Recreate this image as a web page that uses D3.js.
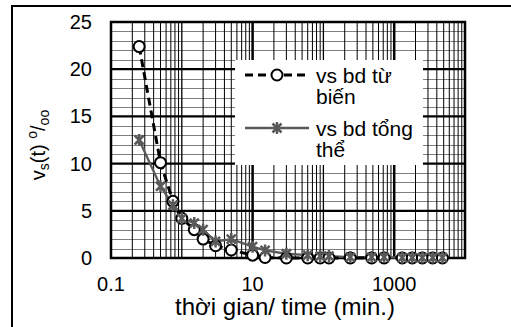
<!DOCTYPE html>
<html lang="vi">
<head>
  <meta charset="UTF-8">
  <title>vs(t) theo thời gian</title>
  <script src="https://d3js.org/d3.v7.min.js"></script>
  <style>
    body { margin: 0; background: #fff; }
    svg { display: block; font-family: 'Liberation Sans', Arial, sans-serif; }
    .tick-label { font-size: 20px; fill: #000; }
    .axis-title { font-size: 24px; fill: #000; }
    .legend-text { font-size: 21px; fill: #000; }
  </style>
</head>
<body>
  <svg width="511" height="327"></svg>
  <script>
    // thời gian (min.)
    const times = [0.25, 0.5, 0.75, 1, 1.5, 2, 3, 5, 10, 15, 30, 60, 90, 120, 240, 480, 720, 1300, 1800, 2500, 3500, 4800];
    // vs bd từ biến
    const vsCreep = [22.4, 10.1, 6.0, 4.2, 3.0, 2.0, 1.3, 0.85, 0.3, 0.05, 0, 0, 0, 0, 0, 0, 0, 0, 0, 0, 0, 0];
    // vs bd tổng thể
    const vsTotal = [12.5, 7.6, 5.6, 4.2, 3.7, 3.0, 1.75, 2.0, 1.2, 0.8, 0.45, 0.3, 0.2, 0.2, 0.1, 0.1, 0.1, 0.05, 0.05, 0.05, 0.05, 0.05];
    const yTicks = [0, 5, 10, 15, 20, 25];
    const xTickLabels = [0.1, 10, 1000];
    const legendLabels = [["vs bd từ", "biến"], ["vs bd tổng", "thể"]];

    const svg = d3.select("svg");
    const pLeft = 111, pRight = 465, pTop = 22, pBottom = 258;

    const x = d3.scaleLog().domain([0.1, 10000]).range([pLeft, pRight]);
    const y = d3.scaleLinear().domain([0, 25]).range([pBottom, pTop]);

    // outer chart border (continues past the picture)
    svg.append("rect")
      .attr("x", 12).attr("y", 6)
      .attr("width", 520).attr("height", 340)
      .attr("fill", "none").attr("stroke", "#000").attr("stroke-width", 2);

    const grid = svg.append("g");

    // horizontal minor gridlines every 1
    d3.range(1, 25).filter(v => v % 5 !== 0).forEach(v => {
      grid.append("line")
        .attr("x1", pLeft).attr("x2", pRight)
        .attr("y1", Math.round(y(v)) + 0.5).attr("y2", Math.round(y(v)) + 0.5)
        .attr("stroke", "#7f7f7f").attr("stroke-width", 1);
    });

    // vertical minor gridlines 2..9 per decade
    const decades = [0.1, 1, 10, 100, 1000];
    decades.forEach(d => {
      d3.range(2, 10).forEach(m => {
        const xv = x(d * m);
        grid.append("line")
          .attr("x1", xv).attr("x2", xv)
          .attr("y1", pTop).attr("y2", pBottom)
          .attr("stroke", "#000").attr("stroke-width", 1);
      });
    });

    // vertical major gridlines at decades
    [1, 10, 100, 1000].forEach(d => {
      const labelled = xTickLabels.includes(d);
      grid.append("line")
        .attr("x1", x(d)).attr("x2", x(d))
        .attr("y1", pTop).attr("y2", pBottom)
        .attr("stroke", "#000").attr("stroke-width", labelled ? 2.5 : 1.3);
    });

    // horizontal major gridlines every 5
    yTicks.forEach(v => {
      grid.append("line")
        .attr("x1", pLeft).attr("x2", pRight)
        .attr("y1", y(v)).attr("y2", y(v))
        .attr("stroke", "#000").attr("stroke-width", 2.2);
    });

    // plot border
    svg.append("rect")
      .attr("x", pLeft).attr("y", pTop)
      .attr("width", pRight - pLeft).attr("height", pBottom - pTop)
      .attr("fill", "none").attr("stroke", "#000").attr("stroke-width", 2.5);

    // y tick labels
    svg.append("g").selectAll("text")
      .data(yTicks).join("text")
      .attr("class", "tick-label")
      .attr("x", 92).attr("y", d => y(d) + 7)
      .attr("text-anchor", "end")
      .text(d => d);

    // x tick labels
    svg.append("g").selectAll("text")
      .data(xTickLabels).join("text")
      .attr("class", "tick-label")
      .attr("x", d => x(d)).attr("y", 291)
      .attr("text-anchor", "middle")
      .text(d => d);

    // x axis title
    svg.append("text")
      .attr("class", "axis-title")
      .attr("x", 285).attr("y", 315)
      .attr("text-anchor", "middle")
      .text("thời gian/ time (min.)");

    // y axis title: vs(t) o/oo
    const yt = svg.append("text")
      .attr("class", "tick-label")
      .attr("transform", "translate(45,145) rotate(-90)")
      .attr("text-anchor", "middle");
    yt.append("tspan").text("v");
    yt.append("tspan").attr("dy", 4).attr("font-size", 14).text("s");
    yt.append("tspan").attr("dy", -4).text("(t) ");
    yt.append("tspan").attr("dy", -8).attr("font-size", 14).text("o");
    yt.append("tspan").attr("dy", 8).text("/");
    yt.append("tspan").attr("dy", 4).attr("font-size", 14).text("oo");

    // series
    const creep = times.map((t, i) => [t, vsCreep[i]]);
    const total = times.map((t, i) => [t, vsTotal[i]]);
    const line = d3.line().x(d => x(d[0])).y(d => y(d[1]));

    const starPath = (s) => {
      const a = s * 0.75;
      return `M${-a},${-a}L${a},${a}M${-a},${a}L${a},${-a}M0,${-s}L0,${s}`;
    };

    svg.append("path")
      .datum(total)
      .attr("d", line)
      .attr("fill", "none").attr("stroke", "#595959").attr("stroke-width", 2.3);

    svg.append("path")
      .datum(creep)
      .attr("d", line)
      .attr("fill", "none").attr("stroke", "#000").attr("stroke-width", 3)
      .attr("stroke-dasharray", "8,5");

    svg.append("g").selectAll("circle")
      .data(creep).join("circle")
      .attr("cx", d => x(d[0])).attr("cy", d => y(d[1]))
      .attr("r", 5.5)
      .attr("fill", "#fff").attr("stroke", "#000").attr("stroke-width", 2);

    svg.append("g").selectAll("path")
      .data(total).join("path")
      .attr("transform", d => `translate(${x(d[0])},${y(d[1])})`)
      .attr("d", starPath(6))
      .attr("fill", "none").attr("stroke", "#595959").attr("stroke-width", 2.5);

    // legend
    const lg = svg.append("g");
    lg.append("rect")
      .attr("x", 235).attr("y", 60).attr("width", 188).attr("height", 105)
      .attr("fill", "#fff");

    const entryY = [75, 128];
    // entry 1
    lg.append("line")
      .attr("x1", 245).attr("x2", 309).attr("y1", entryY[0]).attr("y2", entryY[0])
      .attr("stroke", "#000").attr("stroke-width", 3).attr("stroke-dasharray", "8,5");
    lg.append("circle")
      .attr("cx", 277).attr("cy", entryY[0]).attr("r", 5.5)
      .attr("fill", "#fff").attr("stroke", "#000").attr("stroke-width", 2);
    // entry 2
    lg.append("line")
      .attr("x1", 245).attr("x2", 309).attr("y1", entryY[1]).attr("y2", entryY[1])
      .attr("stroke", "#595959").attr("stroke-width", 2.3);
    lg.append("path")
      .attr("transform", `translate(277,${entryY[1]})`)
      .attr("d", starPath(6))
      .attr("fill", "none").attr("stroke", "#595959").attr("stroke-width", 2.5);

    legendLabels.forEach((lines, i) => {
      const t = lg.append("text")
        .attr("class", "legend-text")
        .attr("x", 316).attr("y", entryY[i] + 8);
      lines.forEach((s, j) => {
        t.append("tspan").attr("x", 316).attr("dy", j === 0 ? 0 : 21).text(s);
      });
    });
  </script>
</body>
</html>
